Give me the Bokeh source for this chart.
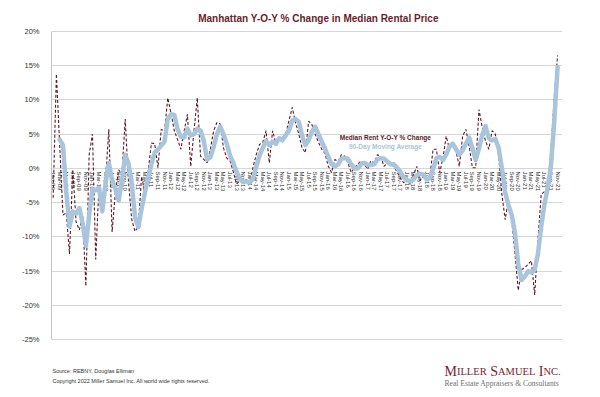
import math
from bokeh.plotting import figure
from bokeh.models import Range1d, FixedTicker, Label
from bokeh.core.properties import value
from bokeh.embed import file_html
from bokeh.resources import INLINE

# ---------------- data ----------------
month_abbr = ["Jan", "Feb", "Mar", "Apr", "May", "Jun", "Jul", "Aug", "Sep", "Oct", "Nov", "Dec"]
years = list(range(2009, 2022))

# Median rent Y-O-Y % change, monthly Jan-09 .. Nov-21
red_yoy = [
    -4.3, 13.8, 3.4, -6.8, -6.5, -12.5, -0.2, -7.8, -9.0, -7.0, -17.2, 2.0,      # 2009
    5.0, -13.3, -2.5, -4.5, -1.5, 5.7, -9.3, -3.5, -0.2, -0.8, 7.2, -2.0,        # 2010
    -7.5, -9.2, -8.5, -1.2, -3.5, -0.5, 3.7, 3.6, 0.1, 5.7, 5.4, 10.3,           # 2011
    8.0, 5.5, 4.2, 2.8, 5.5, 7.9, 0.3, 5.5, 10.3, 1.8, 1.3, 0.8,                 # 2012
    2.8, 5.5, 6.7, 6.5, 3.0, 1.5, 1.1, -0.5, -2.3, -1.8, -2.0, -1.6,             # 2013
    -2.5, 0.1, 2.0, 3.5, 3.8, 5.5, 0.8, 5.5, 3.6, 4.0, 4.5, 5.0,                 # 2014
    7.0, 8.9, 6.7, 5.0, 3.0, 2.3, 6.9, 6.4, 5.0, 3.8, 2.8, 2.2,                  # 2015
    0.3, -0.6, 1.3, 1.0, 2.0, 1.8, 0.8, -0.6, 0.1, 0.6, 1.1, 0.6,                # 2016
    -0.1, 1.1, 0.8, 2.0, 1.8, 0.3, 0.8, 0.6, 0.3, -0.5, -1.4, -2.1,              # 2017
    -1.6, -2.3, -1.0, 0.3, -1.8, -1.2, -1.8, -1.2, 2.8, 2.8, -0.6, 1.5,          # 2018
    4.7, 2.8, 3.3, 2.5, 0.3, 4.7, 5.7, 3.3, 0.1, 0.1, 8.6, 6.0,                  # 2019
    4.0, 2.8, 5.5, 5.0, 2.0, -3.8, -7.5, -4.5, -7.5, -12.5, -17.8, -14.8,        # 2020
    -14.5, -14.0, -13.5, -18.5, -10.5, -3.8, -3.4, -3.0, 3.0, 10.5, 16.5,        # 2021
]

# 90-day moving average, Mar-09 .. Nov-21
blue_ma = [
    4.2, 3.4, -3.4, -8.5, -6.3, -6.6, -5.8, -8.0, -11.3, -6.8,                   # 2009 (Mar-Dec)
    -3.0, -3.2, -2.8, -6.3, -2.2, 0.8, -1.7, -3.0, -4.7, -1.8, 2.0, 0.7,         # 2010
    -2.2, -7.1, -8.6, -5.9, -3.6, -1.4, 0.6, 2.3, 2.8, 3.3, 3.9, 7.2,            # 2011
    7.9, 7.8, 5.7, 4.6, 4.5, 5.8, 4.8, 5.0, 5.8, 5.5, 4.0, 1.3,                  # 2012
    1.6, 3.1, 5.0, 6.1, 5.0, 3.6, 1.9, 0.8, -0.5, -1.5, -2.0, -1.9,              # 2013
    -2.1, -1.5, 0.2, 1.9, 3.0, 4.0, 3.4, 3.9, 3.6, 4.4, 4.1, 4.8,                # 2014
    5.5, 7.0, 7.2, 6.8, 4.8, 3.4, 4.1, 5.4, 6.1, 5.0, 3.9, 2.9,                  # 2015
    1.7, 0.6, 0.3, 0.6, 1.4, 1.5, 1.4, 0.6, 0.0, 0.0, 0.6, 0.8,                  # 2016
    0.5, 0.5, 0.6, 1.3, 1.5, 1.4, 1.0, 0.6, 0.6, 0.1, -0.5, -1.3,                # 2017
    -1.7, -1.9, -1.6, -1.0, -0.8, -0.9, -1.6, -1.4, -0.1, 1.5, 1.7, 1.2,         # 2018
    2.0, 3.2, 3.6, 2.8, 2.0, 2.6, 3.6, 4.5, 3.0, 1.2, 2.9, 4.9,                  # 2019
    6.2, 4.4, 4.1, 4.3, 3.0, 0.0, -3.5, -5.4, -6.8, -9.5, -14.0, -16.3,          # 2020
    -15.8, -15.0, -15.2, -14.8, -12.5, -8.5, -5.2, -2.8, 0.5, 7.0, 14.8,         # 2021
]

y_ticks = [-25, -20, -15, -10, -5, 0, 5, 10, 15, 20]
y_tick_labels = ["-25%", "-20%", "-15%", "-10%", "-5%", "0%", "5%", "10%", "15%", "20%"]

title_text = "Manhattan Y-O-Y % Change in Median Rental Price"
legend_red = "Median Rent Y-O-Y % Change"
legend_blue = "90-Day Moving Average"
source_text = "Source: REBNY, Douglas Elliman"
copyright_text = "Copyright 2022 Miller Samuel Inc.  All world wide rights reserved."
tagline_text = "Real Estate Appraisers & Consultants"

months = [f"{m}-{y % 100:02d}" for y in years for m in month_abbr][:len(red_yoy)]
idx = list(range(len(months)))
blue_x = idx[len(idx) - len(blue_ma):]
lab_x = idx[::2]
lab_txt = months[::2]

# ---------------- layout (page pixels) ----------------
W, H = 600, 397
PLOT_L, PLOT_R, PLOT_T, PLOT_B = 51, 562, 31, 339   # box spanned by 20% .. -25%
y_min, y_max = y_ticks[0], y_ticks[-1]
px_per_unit = (PLOT_B - PLOT_T) / (y_max - y_min)
y_lo = y_min - (H - PLOT_B) / px_per_unit
y_hi = y_max + PLOT_T / px_per_unit

RED = "#5e1623"
BLUE = "#a8c5db"
TITLE_RED = "#6b1d2b"

p = figure(width=W, height=H,
           x_range=Range1d(-0.5, len(months) + 0.5), y_range=Range1d(y_lo, y_hi),
           output_backend="svg", toolbar_location=None,
           min_border_left=PLOT_L, min_border_right=W - PLOT_R,
           min_border_top=0, min_border_bottom=0)
p.outline_line_color = None
p.background_fill_color = "white"
p.border_fill_color = "white"
p.xaxis.visible = False
p.xgrid.visible = False
p.ygrid.grid_line_color = "#d6d6d6"
p.ygrid.grid_line_width = 1
p.yaxis.ticker = FixedTicker(ticks=y_ticks)
p.yaxis.bounds = (y_min, y_max)
p.yaxis.major_label_overrides = dict(zip(y_ticks, y_tick_labels))
p.yaxis.axis_line_color = "#c4c4c4"
p.yaxis.major_tick_line_color = None
p.yaxis.minor_tick_line_color = None
p.yaxis.major_label_text_font = "Liberation Sans"
p.yaxis.major_label_text_font_size = "7.5px"
p.yaxis.major_label_text_color = "#333333"
p.yaxis.major_label_standoff = 6

# category labels along the 0% line
p.text(x=lab_x, y=[0] * len(lab_x), text=lab_txt, angle=-math.pi / 2,
       text_align="left", text_baseline="middle", y_offset=3,
       text_font=value("Liberation Sans"), text_font_size="6px", text_color="#333333")

p.line(idx, red_yoy, line_color=RED, line_width=1.1, line_dash="3 2")
p.line(blue_x, blue_ma, line_color=BLUE, line_width=4.5, line_join="round", line_cap="round")


# ---------------- texts placed in page coordinates ----------------
def put(txt, px, py, size, color, font="Liberation Sans", style="normal",
        align="left", baseline="middle"):
    p.add_layout(Label(x=px - PLOT_L, y=H - py, x_units="screen", y_units="screen",
                       text=txt, text_font=font, text_font_size=f"{size}px",
                       text_font_style=style, text_color=color,
                       text_align=align, text_baseline=baseline))


put(title_text, 318, 18, 10, TITLE_RED, style="bold", align="center")
put(legend_red, 385, 137, 6.5, "#5a1a26", style="bold", align="center")
put(legend_blue, 385, 146, 6.5, "#a9c6dc", style="bold", align="center")
put(source_text, 52, 370, 5.5, "#333333")
put(copyright_text, 52, 380, 5.5, "#333333")

# logo in small caps, assembled from large and small capitals
serif_w = {"M": .889, "I": .333, "L": .611, "E": .611, "R": .667, " ": .25, "S": .556,
           "A": .722, "U": .722, "N": .722, "C": .667, ".": .25}
logo_parts = [("M", 14), ("ILLER", 10.5), (" ", 14), ("S", 14), ("AMUEL", 10.5),
              (" ", 14), ("I", 14), ("NC.", 10.5)]
lx = 444
for txt, sz in logo_parts:
    if txt.strip():
        put(txt, lx, 371.4, sz, "#7a2231", font="Liberation Serif", baseline="alphabetic")
    lx += sum(serif_w[c] for c in txt) * sz
put(tagline_text, 444, 382.5, 7.6, "#6f6f6f", font="Liberation Serif")

open("out.html", "w").write(file_html(p, INLINE))
